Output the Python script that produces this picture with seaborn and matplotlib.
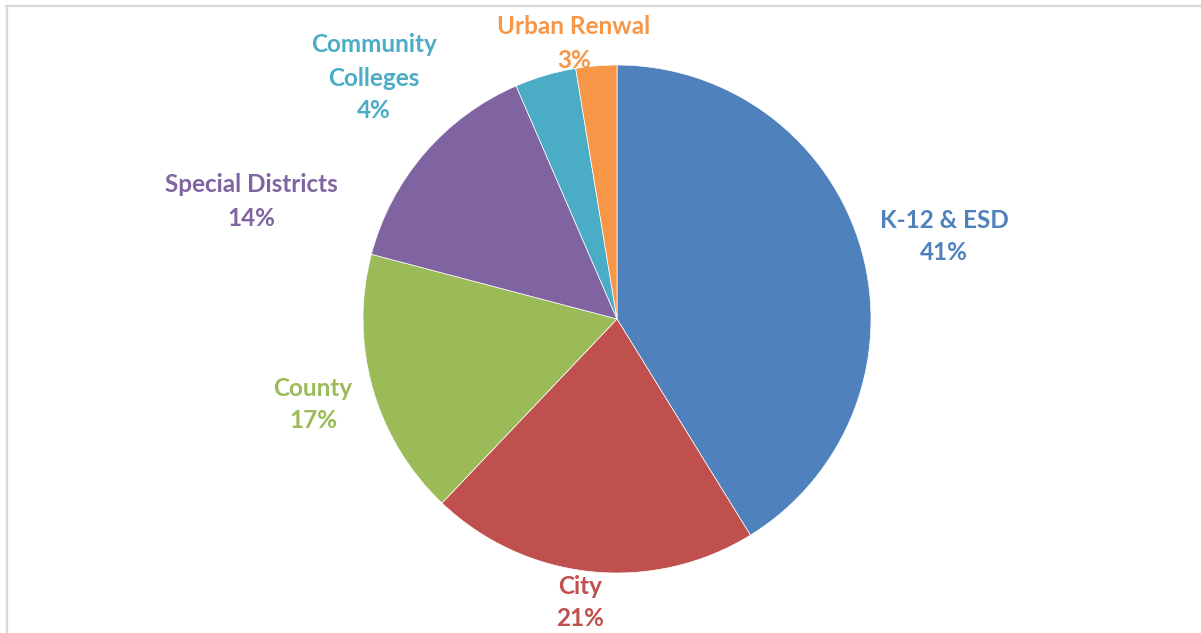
import matplotlib
matplotlib.use("Agg")
import matplotlib.pyplot as plt
from matplotlib.lines import Line2D
import seaborn as sns
import numpy as np

categories = ["K-12 & ESD", "City", "County", "Special Districts", "Community\nColleges", "Urban Renwal"]
values = [41.2, 20.9, 17.0, 14.4, 3.9, 2.6]
pct_labels = ["41%", "21%", "17%", "14%", "4%", "3%"]
colors = ["#4F81BD", "#C0504D", "#9BBB59", "#8064A2", "#4BACC6", "#F79646"]

sns.set_theme(style="white")
plt.rcParams['font.family'] = ['Lato', 'DejaVu Sans']

W, H = 1201, 633
fig = plt.figure(figsize=(W / 100, H / 100), dpi=100)
ax = fig.add_axes([0, 0, 1, 1])

cx, cy, R = 617, 319, 254
ax.pie(values, colors=colors, startangle=90, counterclock=False, radius=1,
       center=(0, 0), wedgeprops=dict(linewidth=0.5, edgecolor="white"))
ax.set_xlim(-cx / R, (W - cx) / R)
ax.set_ylim((cy - H) / R, cy / R)
ax.set_aspect("auto")
ax.axis("off")

# label centres in pixels (x, y of top line centre)
label_pos = [(944, 220), (580, 586), (313, 388), (251, 185), (374, 45), (574, 27)]
line_gap = 33
for cat, pct, col, (px, py) in zip(categories, pct_labels, colors, label_pos):
    lines = cat.split("\n") + [pct]
    for i, ln in enumerate(lines):
        ax.text((px - cx) / R, (cy - (py + i * line_gap)) / R, ln, color=col,
                fontsize=17.5, fontweight="bold", ha="center", va="center")

# light gray chart frame (top and left visible)
fig.add_artist(Line2D([6 / W, 1], [1 - 5.5 / H, 1 - 5.5 / H], transform=fig.transFigure,
                      color="#D9D9D9", linewidth=1.6))
fig.add_artist(Line2D([6.5 / W, 6.5 / W], [0, 1 - 5.5 / H], transform=fig.transFigure,
                      color="#D9D9D9", linewidth=1.6))

fig.savefig("out.png", dpi=100, facecolor="white")
